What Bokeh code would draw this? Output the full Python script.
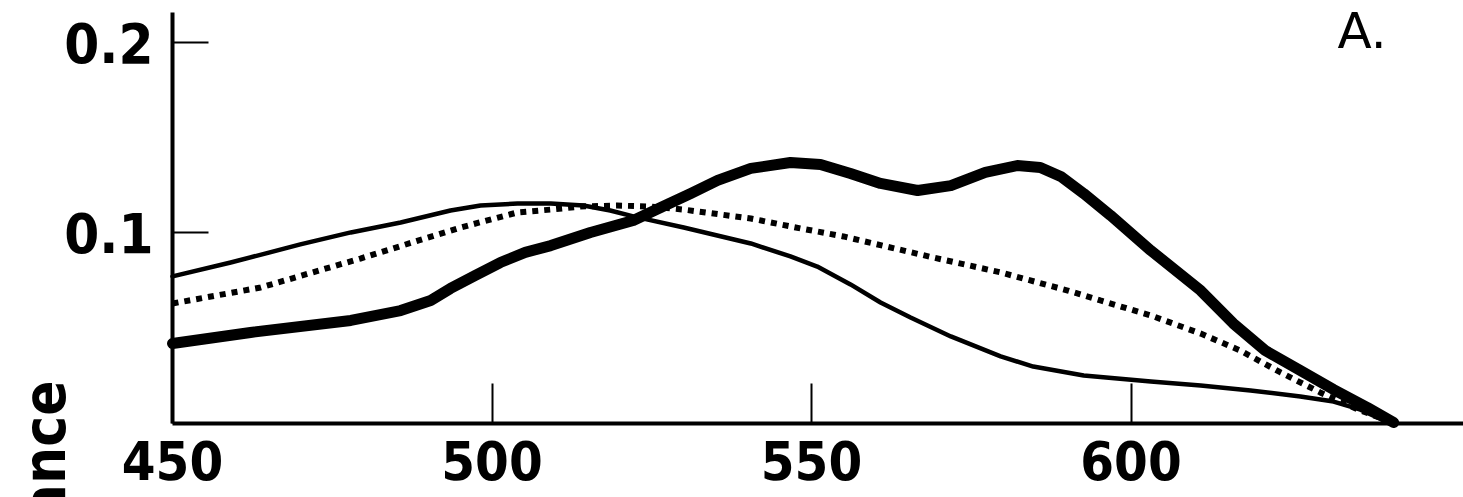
from math import pi
from bokeh.plotting import figure
from bokeh.models import Range1d, FixedTicker, Label
from bokeh.embed import file_html
from bokeh.resources import INLINE

# ---- data ----
x_ticks = [450, 500, 550, 600]
x_tick_labels = ["450", "500", "550", "600"]
y_ticks = [0.1, 0.2]
y_tick_labels = ["0.1", "0.2"]

thin_nm = [450.0, 459.1, 470.0, 477.9, 485.7, 493.5, 498.2, 504.0, 509.2, 514.3,
           518.5, 522.1, 530.0, 540.5, 546.7, 550.9, 556.1, 560.8, 565.5, 571.8,
           579.6, 584.7, 592.6, 603.1, 610.9, 618.7, 626.5, 631.7, 635.9, 640.6]
thin_abs = [0.0772, 0.0845, 0.0940, 0.1003, 0.1055, 0.1118, 0.1144, 0.1155, 0.1155, 0.1144,
            0.1118, 0.1087, 0.1029, 0.0945, 0.0877, 0.0824, 0.0730, 0.0635, 0.0556, 0.0457,
            0.0352, 0.0299, 0.0252, 0.0220, 0.0199, 0.0173, 0.0142, 0.0115, 0.0073, 0.0]

thick_nm = [450.0, 462.2, 477.9, 485.7, 490.4, 493.5, 497.4, 501.3, 505.2, 509.2,
            515.4, 522.1, 526.4, 531.1, 535.3, 540.5, 546.7, 551.4, 556.1, 560.8,
            566.6, 571.8, 577.2, 582.2, 585.8, 589.0, 592.6, 596.8, 603.1, 610.9,
            616.0, 621.0, 626.5, 631.7, 637.0, 641.1]
thick_abs = [0.0420, 0.0478, 0.0541, 0.0593, 0.0646, 0.0709, 0.0777, 0.0845, 0.0898, 0.0934,
             0.1003, 0.1066, 0.1134, 0.1207, 0.1276, 0.1339, 0.1370, 0.1360, 0.1312, 0.1260,
             0.1223, 0.1249, 0.1318, 0.1354, 0.1344, 0.1297, 0.1207, 0.1092, 0.0908, 0.0698,
             0.0525, 0.0383, 0.0278, 0.0178, 0.0084, 0.0005]

dot_nm = [450.0, 463.8, 479.4, 495.1, 504.0, 509.2, 513.8, 519.6, 524.8, 530.0,
          540.5, 548.3, 555.0, 569.1, 579.6, 590.1, 595.2, 603.1, 610.9, 617.1,
          623.4, 629.6, 635.9, 641.1]
dot_abs = [0.0630, 0.0714, 0.0866, 0.1029, 0.1108, 0.1123, 0.1139, 0.1144, 0.1139, 0.1123,
           0.1076, 0.1024, 0.0982, 0.0871, 0.0793, 0.0698, 0.0646, 0.0567, 0.0472, 0.0383,
           0.0268, 0.0163, 0.0068, 0.0005]

panel_tag = "A."
y_axis_title = "Absorbance"

# ---- figure ----
W, H = 1463, 497
p = figure(width=W, height=H, output_backend="svg", toolbar_location=None,
           x_range=Range1d(423.08, 652.03), y_range=Range1d(-0.03885, 0.22205),
           min_border_left=0, min_border_right=0, min_border_top=0, min_border_bottom=0,
           background_fill_color="white", border_fill_color="white")
p.outline_line_color = None
p.grid.visible = False

label_font = "DejaVu Sans Condensed, Roboto"

xa = p.xaxis[0]
xa.fixed_location = 0
xa.bounds = (450, 652.03)
xa.ticker = FixedTicker(ticks=x_ticks)
xa.major_label_overrides = {t: s for t, s in zip(x_ticks, x_tick_labels)}
xa.axis_line_width = 4
xa.axis_line_color = "black"
xa.major_tick_in = 40
xa.major_tick_out = 0
xa.major_tick_line_width = 2
xa.minor_tick_line_color = None
xa.major_label_text_font = label_font
xa.major_label_text_font_style = "bold"
xa.major_label_text_font_size = "54px"
xa.major_label_text_color = "black"
xa.major_label_standoff = 18

ya = p.yaxis[0]
ya.fixed_location = 450
ya.bounds = (0, 0.2157)
ya.ticker = FixedTicker(ticks=y_ticks)
ya.major_label_overrides = {t: s for t, s in zip(y_ticks, y_tick_labels)}
ya.axis_line_width = 4
ya.axis_line_color = "black"
ya.major_tick_in = 36
ya.major_tick_out = 0
ya.major_tick_line_width = 2
ya.minor_tick_line_color = None
ya.major_label_text_font = label_font
ya.major_label_text_font_style = "bold"
ya.major_label_text_font_size = "56px"
ya.major_label_text_color = "black"
ya.major_label_standoff = 19

# curves
p.line(thin_nm, thin_abs, line_color="black", line_width=4.5, line_join="round", line_cap="round")
p.line(dot_nm, dot_abs, line_color="black", line_width=6, line_dash="6 6", line_cap="butt")
p.line(thick_nm, thick_abs, line_color="black", line_width=11, line_join="round", line_cap="round")

# panel tag
p.add_layout(Label(x=632.3, y=0.2063, text=panel_tag, text_font="DejaVu Sans",
                   text_font_size="50px", text_color="black", text_align="left",
                   text_baseline="alphabetic"))

# y axis title (cut off by the picture edge, as in the reference)
p.add_layout(Label(x=429.97, y=0.0226, text=y_axis_title, angle=pi / 2,
                   text_font=label_font, text_font_style="bold",
                   text_font_size="58px", text_color="black", text_align="right",
                   text_baseline="alphabetic"))

open("out.html", "w").write(file_html(p, INLINE))
